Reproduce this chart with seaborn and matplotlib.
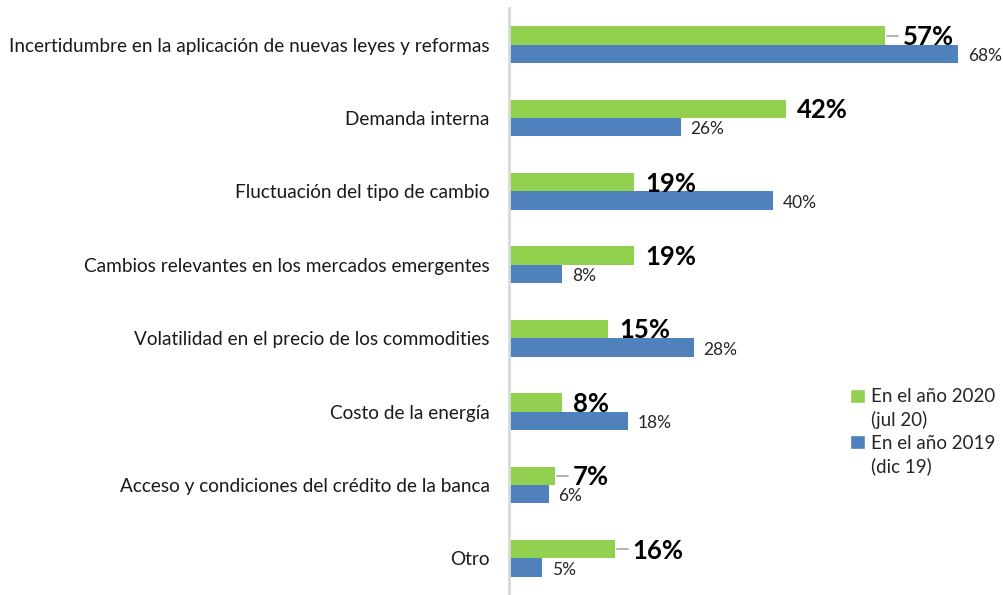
import matplotlib
matplotlib.use("Agg")
import matplotlib.pyplot as plt
import seaborn as sns
import pandas as pd
from matplotlib.patches import Patch

categories = [
    "Incertidumbre en la aplicación de nuevas leyes y reformas",
    "Demanda interna",
    "Fluctuación del tipo de cambio",
    "Cambios relevantes en los mercados emergentes",
    "Volatilidad en el precio de los commodities",
    "Costo de la energía",
    "Acceso y condiciones del crédito de la banca",
    "Otro",
]
values_2020 = [57, 42, 19, 19, 15, 8, 7, 16]
values_2019 = [68, 26, 40, 8, 28, 18, 6, 5]
series = ["En el año 2020", "En el año 2019"]
series_sub = ["(jul 20)", "(dic 19)"]
leader = [True, False, False, False, False, False, True, True]

GREEN = "#92D050"
BLUE = "#4F81BD"

sns.set_theme(style="white")
plt.rcParams["font.family"] = ["Lato", "DejaVu Sans"]

df = pd.DataFrame({
    "cat": categories * 2,
    "val": values_2020 + values_2019,
    "serie": [series[0]] * len(categories) + [series[1]] * len(categories),
})

fig = plt.figure(figsize=(10.04, 5.95), dpi=100)
ax = fig.add_axes([509 / 1004, 0.0, 1 - 509 / 1004, (595 - 8) / 595])

sns.barplot(data=df, x="val", y="cat", hue="serie", hue_order=series,
            order=categories, palette=[GREEN, BLUE], orient="h",
            width=0.5, ax=ax, legend=False, saturation=1, edgecolor="none")

ax.set_xlim(0, 75)
ax.set_ylim(len(categories) - 0.5, -0.5)
ax.set_xlabel("")
ax.set_ylabel("")
ax.set_xticks([])
ax.tick_params(axis="y", length=0, pad=14, labelsize=13.7, labelcolor="#1a1a1a")
for s in ["top", "right", "bottom"]:
    ax.spines[s].set_visible(False)
ax.spines["left"].set_color("#d9d9d9")
ax.spines["left"].set_linewidth(2)

for i, (g, b) in enumerate(zip(values_2020, values_2019)):
    yg = i - 0.125
    yb = i + 0.125
    if leader[i]:
        ax.plot([g + 0.3, g + 2.0], [yg, yg], color="#a6a6a6", lw=1.2, clip_on=False)
        xg = g + 2.7
    else:
        xg = g + 1.7
    ax.text(xg, yg + 0.02, f"{g}%", fontsize=18.5, fontweight="bold",
            va="center", ha="left", color="black", clip_on=False)
    ax.text(b + 1.5, yb + 0.03, f"{b}%", fontsize=12.5, va="center", ha="left",
            color="#262626", clip_on=False)

blank = Patch(facecolor="none", edgecolor="none")
handles = [Patch(facecolor=GREEN), blank, Patch(facecolor=BLUE), blank]
labels = [series[0], series_sub[0], series[1], series_sub[1]]
fig.legend(handles, labels, loc="upper left", bbox_to_anchor=(843 / 1004, 1 - 381 / 595),
           frameon=False, fontsize=13.5, handlelength=0.75, handleheight=0.75,
           handletextpad=0.35, labelspacing=0.3, borderaxespad=0)

fig.savefig("out.png", dpi=100)
